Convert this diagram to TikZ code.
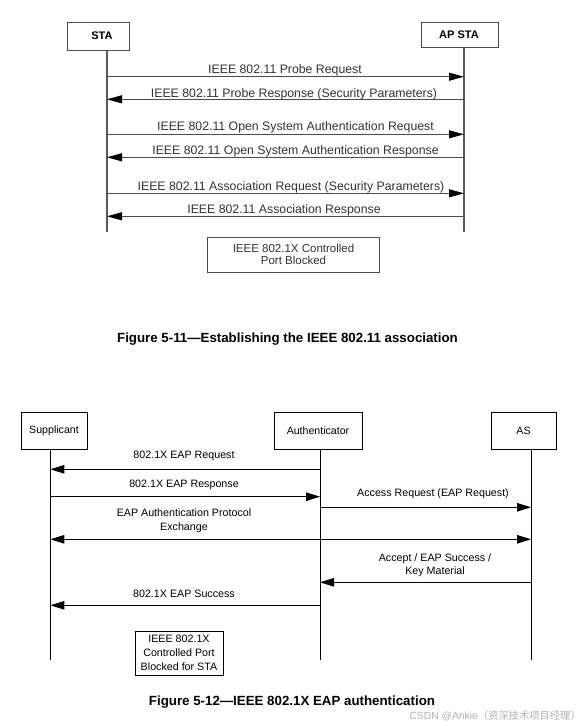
\documentclass[tikz,border=0pt]{standalone}
\usepackage{fontspec}
\setmainfont{Liberation Sans}
\newfontfamily\cjk{Noto Sans CJK SC}
\usetikzlibrary{arrows.meta}

\tikzset{
  topbox/.style={draw=black!70, line width=1pt, inner sep=0pt, font=\fontsize{11}{13}\selectfont\bfseries},
  toplife/.style={draw=black!65, line width=1.3pt},
  topmsg/.style={draw=black!70, line width=1pt, -{Triangle[length=15pt, width=8pt, color=black]}},
  toplab/.style={text=black!80, inner sep=0pt, font=\fontsize{12.3}{14}\selectfont},
  box/.style={draw, line width=0.8pt, inner sep=0pt, font=\fontsize{10.6}{13}\selectfont},
  life/.style={draw, line width=0.8pt},
  msg/.style={draw, line width=0.8pt, -{Triangle[length=14pt, width=8.5pt]}},
  lab/.style={inner sep=0pt, align=center, font=\fontsize{10.7}{13.3}\selectfont},
  caption/.style={inner sep=0pt, font=\fontsize{13.3}{15}\selectfont\bfseries}
}

\begin{document}
\begin{tikzpicture}[x=1pt, y=-1pt]
\useasboundingbox[fill=white] (0,0) rectangle (587,726);

% Figure 5-11
\node (sta)[topbox, minimum width=62, minimum height=28] at (98,36) {};
\node (sta text)[topbox, draw=none] at (102,35.7) {STA};
\node (ap)[topbox, minimum width=77, minimum height=25] at (459.5,34.5) {};
\node (ap text)[topbox, draw=none] at (459,35) {AP STA};
\coordinate (sta top) at (107,50);
\coordinate (sta end) at (107,232);
\coordinate (ap top) at (464,47);
\coordinate (ap end) at (464,232);
\draw[toplife] (sta top) -- (sta end);
\draw[toplife] (ap top) -- (ap end);

\foreach \n/\y in {1/76.7, 2/99.3, 3/134.3, 4/157.3, 5/193.3, 6/216.3} {
  \coordinate (s\n) at (107,\y);
  \coordinate (a\n) at (464,\y);
}
\draw[topmsg] (s1) -- (a1);
\draw[topmsg] (a2) -- (s2);
\draw[topmsg] (s3) -- (a3);
\draw[topmsg] (a4) -- (s4);
\draw[topmsg] (s5) -- (a5);
\draw[topmsg] (a6) -- (s6);

\node (l1)[toplab] at (285,70) {IEEE 802.11 Probe Request};
\node (l2)[toplab] at (294,94) {IEEE 802.11 Probe Response (Security Parameters)};
\node (l3)[toplab] at (295.5,127.7) {IEEE 802.11 Open System Authentication Request};
\node (l4)[toplab] at (295.5,151.7) {IEEE 802.11 Open System Authentication Response};
\node (l5)[toplab] at (291,187.3) {IEEE 802.11 Association Request (Security Parameters)};
\node (l6)[toplab] at (284,210.7) {IEEE 802.11 Association Response};

\node (blocked)[topbox, font=\fontsize{11.5}{11.5}\selectfont, text=black!80, align=center,
  minimum width=172, minimum height=35] at (293.5,254.5) {IEEE 802.1X Controlled\\Port Blocked};

\node (cap1)[caption] at (287.5,339) {Figure 5-11---Establishing the IEEE 802.11 association};

% Figure 5-12
\node (supp)[box, minimum width=66, minimum height=37] at (54,430.5) {Supplicant};
\node (auth)[box, minimum width=88, minimum height=37] at (318,430.5) {Authenticator};
\node (as)[box, minimum width=65, minimum height=37] at (523.5,430.5) {AS};
\coordinate (supp end) at (50.3,660);
\coordinate (auth end) at (320,660);
\coordinate (as end) at (531,660);
\draw[life] (supp.south -| supp end) -- (supp end);
\draw[life] (auth.south -| auth end) -- (auth end);
\draw[life] (as.south -| as end) -- (as end);

\foreach \n/\y in {1/469.3, 2/496.7, 3/507.3, 4/539.3, 5/582.3, 6/605.3} {
  \coordinate (p\n) at (50.3,\y);
  \coordinate (q\n) at (320,\y);
  \coordinate (r\n) at (531,\y);
}
\draw[msg] (q1) -- (p1);
\draw[msg] (p2) -- (q2);
\draw[msg] (q3) -- (r3);
\draw[msg, {Triangle[length=14pt, width=8.5pt]}-{Triangle[length=14pt, width=8.5pt]}] (p4) -- (r4);
\draw[msg] (r5) -- (q5);
\draw[msg] (q6) -- (p6);

\node (m1)[lab] at (184,456) {802.1X EAP Request};
\node (m2)[lab] at (184,485.3) {802.1X EAP Response};
\node (m3)[lab] at (433,493.3) {Access Request (EAP Request)};
\node (m4)[lab] at (184,520.7) {EAP Authentication Protocol\\Exchange};
\node (m5)[lab] at (435,565) {Accept / EAP Success /\\Key Material};
\node (m6)[lab] at (184,594) {802.1X EAP Success};

\node (port)[box, align=center, font=\fontsize{10.7}{14}\selectfont,
  minimum width=88, minimum height=44] at (179,653) {IEEE 802.1X\\Controlled Port\\Blocked for STA};

\node (cap2)[caption] at (292,702.3) {Figure 5-12---IEEE 802.1X EAP authentication};
\node (mark)[inner sep=0pt, anchor=east, text=black!30, font=\fontsize{10.3}{12}\selectfont]
  at (581,716) {CSDN @Ankie\cjk （资深技术项目经理）};
\end{tikzpicture}
\end{document}
